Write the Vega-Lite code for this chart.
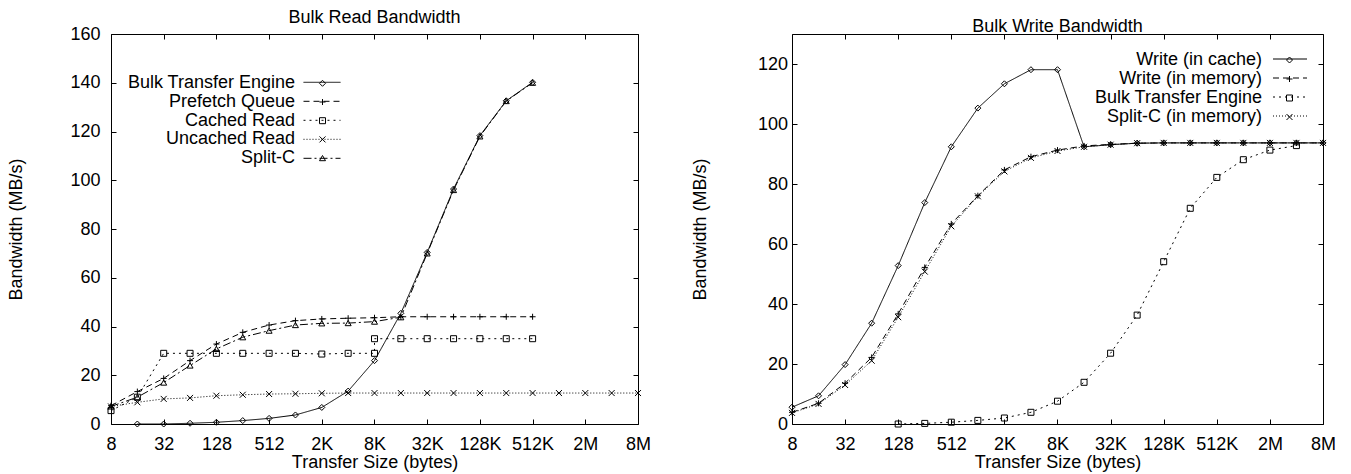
{
  "$schema": "https://vega.github.io/schema/vega-lite/v6.json",
  "padding": {"left": 7, "top": 8, "right": 5, "bottom": 5},
  "background": "white",
  "config": {
    "font": "Liberation Sans",
    "view": {"stroke": "black", "strokeWidth": 1},
    "axis": {"domain": false, "grid": false, "tickColor": "black", "tickSize": -5, "tickWidth": 1, "labelColor": "black", "labelFontSize": 18, "titleFontSize": 18, "titleFontWeight": "normal", "titleColor": "black", "labelFont": "Liberation Sans", "titleFont": "Liberation Sans", "labelOverlap": false, "labelFlush": false, "labelBound": false},
    "title": {"fontSize": 18, "fontWeight": "normal", "color": "black", "font": "Liberation Sans", "anchor": "middle", "baseline": "bottom", "offset": -2},
    "legend": {"labelFont": "Liberation Sans", "labelColor": "black", "labelFontSize": 18, "labelLimit": 500, "padding": 0}
  },
  "datasets": {
    "read": [
      {"x": 16, "y": 0, "s": "Bulk Transfer Engine"},
      {"x": 32, "y": 0, "s": "Bulk Transfer Engine"},
      {"x": 64, "y": 0.3, "s": "Bulk Transfer Engine"},
      {"x": 128, "y": 0.7, "s": "Bulk Transfer Engine"},
      {"x": 256, "y": 1.4, "s": "Bulk Transfer Engine"},
      {"x": 512, "y": 2.3, "s": "Bulk Transfer Engine"},
      {"x": 1024, "y": 3.7, "s": "Bulk Transfer Engine"},
      {"x": 2048, "y": 6.8, "s": "Bulk Transfer Engine"},
      {"x": 4096, "y": 13.5, "s": "Bulk Transfer Engine"},
      {"x": 8192, "y": 26, "s": "Bulk Transfer Engine"},
      {"x": 16384, "y": 45.4, "s": "Bulk Transfer Engine"},
      {"x": 32768, "y": 70.4, "s": "Bulk Transfer Engine"},
      {"x": 65536, "y": 96.4, "s": "Bulk Transfer Engine"},
      {"x": 131072, "y": 118.3, "s": "Bulk Transfer Engine"},
      {"x": 262144, "y": 132.6, "s": "Bulk Transfer Engine"},
      {"x": 524288, "y": 140.2, "s": "Bulk Transfer Engine"},
      {"x": 8, "y": 7.5, "s": "Prefetch Queue"},
      {"x": 16, "y": 13.3, "s": "Prefetch Queue"},
      {"x": 32, "y": 18.7, "s": "Prefetch Queue"},
      {"x": 64, "y": 26, "s": "Prefetch Queue"},
      {"x": 128, "y": 32.8, "s": "Prefetch Queue"},
      {"x": 256, "y": 37.6, "s": "Prefetch Queue"},
      {"x": 512, "y": 40.6, "s": "Prefetch Queue"},
      {"x": 1024, "y": 42.4, "s": "Prefetch Queue"},
      {"x": 2048, "y": 43.1, "s": "Prefetch Queue"},
      {"x": 4096, "y": 43.4, "s": "Prefetch Queue"},
      {"x": 8192, "y": 43.6, "s": "Prefetch Queue"},
      {"x": 16384, "y": 44, "s": "Prefetch Queue"},
      {"x": 32768, "y": 44, "s": "Prefetch Queue"},
      {"x": 65536, "y": 44, "s": "Prefetch Queue"},
      {"x": 131072, "y": 44, "s": "Prefetch Queue"},
      {"x": 262144, "y": 44, "s": "Prefetch Queue"},
      {"x": 524288, "y": 44, "s": "Prefetch Queue"},
      {"x": 8, "y": 5.5, "s": "Cached Read"},
      {"x": 16, "y": 11, "s": "Cached Read"},
      {"x": 32, "y": 29, "s": "Cached Read"},
      {"x": 64, "y": 29, "s": "Cached Read"},
      {"x": 128, "y": 29, "s": "Cached Read"},
      {"x": 256, "y": 29, "s": "Cached Read"},
      {"x": 512, "y": 29, "s": "Cached Read"},
      {"x": 1024, "y": 29, "s": "Cached Read"},
      {"x": 2048, "y": 28.7, "s": "Cached Read"},
      {"x": 4096, "y": 29, "s": "Cached Read"},
      {"x": 8192, "y": 29, "s": "Cached Read"},
      {"x": 8192, "y": 35, "s": "Cached Read"},
      {"x": 16384, "y": 35, "s": "Cached Read"},
      {"x": 32768, "y": 35, "s": "Cached Read"},
      {"x": 65536, "y": 35, "s": "Cached Read"},
      {"x": 131072, "y": 35, "s": "Cached Read"},
      {"x": 262144, "y": 35, "s": "Cached Read"},
      {"x": 524288, "y": 35, "s": "Cached Read"},
      {"x": 8, "y": 7.2, "s": "Uncached Read"},
      {"x": 16, "y": 8.9, "s": "Uncached Read"},
      {"x": 32, "y": 10.3, "s": "Uncached Read"},
      {"x": 64, "y": 10.7, "s": "Uncached Read"},
      {"x": 128, "y": 11.6, "s": "Uncached Read"},
      {"x": 256, "y": 12, "s": "Uncached Read"},
      {"x": 512, "y": 12.3, "s": "Uncached Read"},
      {"x": 1024, "y": 12.4, "s": "Uncached Read"},
      {"x": 2048, "y": 12.6, "s": "Uncached Read"},
      {"x": 4096, "y": 12.7, "s": "Uncached Read"},
      {"x": 8192, "y": 12.7, "s": "Uncached Read"},
      {"x": 16384, "y": 12.7, "s": "Uncached Read"},
      {"x": 32768, "y": 12.7, "s": "Uncached Read"},
      {"x": 65536, "y": 12.7, "s": "Uncached Read"},
      {"x": 131072, "y": 12.7, "s": "Uncached Read"},
      {"x": 262144, "y": 12.7, "s": "Uncached Read"},
      {"x": 524288, "y": 12.7, "s": "Uncached Read"},
      {"x": 1048576, "y": 12.7, "s": "Uncached Read"},
      {"x": 2097152, "y": 12.7, "s": "Uncached Read"},
      {"x": 4194304, "y": 12.7, "s": "Uncached Read"},
      {"x": 8388608, "y": 12.7, "s": "Uncached Read"},
      {"x": 8, "y": 7.2, "s": "Split-C"},
      {"x": 16, "y": 11, "s": "Split-C"},
      {"x": 32, "y": 17, "s": "Split-C"},
      {"x": 64, "y": 24, "s": "Split-C"},
      {"x": 128, "y": 30.8, "s": "Split-C"},
      {"x": 256, "y": 35.6, "s": "Split-C"},
      {"x": 512, "y": 38.3, "s": "Split-C"},
      {"x": 1024, "y": 40.6, "s": "Split-C"},
      {"x": 2048, "y": 41.3, "s": "Split-C"},
      {"x": 4096, "y": 41.4, "s": "Split-C"},
      {"x": 8192, "y": 42, "s": "Split-C"},
      {"x": 16384, "y": 43.8, "s": "Split-C"},
      {"x": 32768, "y": 70, "s": "Split-C"},
      {"x": 65536, "y": 96, "s": "Split-C"},
      {"x": 131072, "y": 118, "s": "Split-C"},
      {"x": 262144, "y": 132.5, "s": "Split-C"},
      {"x": 524288, "y": 140, "s": "Split-C"}
    ],
    "write": [
      {"x": 8, "y": 5.6, "s": "Write (in cache)"},
      {"x": 16, "y": 9.4, "s": "Write (in cache)"},
      {"x": 32, "y": 19.8, "s": "Write (in cache)"},
      {"x": 64, "y": 33.6, "s": "Write (in cache)"},
      {"x": 128, "y": 52.8, "s": "Write (in cache)"},
      {"x": 256, "y": 73.8, "s": "Write (in cache)"},
      {"x": 512, "y": 92.4, "s": "Write (in cache)"},
      {"x": 1024, "y": 105.3, "s": "Write (in cache)"},
      {"x": 2048, "y": 113.4, "s": "Write (in cache)"},
      {"x": 4096, "y": 118.1, "s": "Write (in cache)"},
      {"x": 8192, "y": 118.1, "s": "Write (in cache)"},
      {"x": 16384, "y": 92.4, "s": "Write (in cache)"},
      {"x": 32768, "y": 93.1, "s": "Write (in cache)"},
      {"x": 65536, "y": 93.6, "s": "Write (in cache)"},
      {"x": 131072, "y": 93.7, "s": "Write (in cache)"},
      {"x": 262144, "y": 93.7, "s": "Write (in cache)"},
      {"x": 524288, "y": 93.7, "s": "Write (in cache)"},
      {"x": 1048576, "y": 93.7, "s": "Write (in cache)"},
      {"x": 2097152, "y": 93.7, "s": "Write (in cache)"},
      {"x": 4194304, "y": 93.7, "s": "Write (in cache)"},
      {"x": 8388608, "y": 93.7, "s": "Write (in cache)"},
      {"x": 8, "y": 3.9, "s": "Write (in memory)"},
      {"x": 16, "y": 6.9, "s": "Write (in memory)"},
      {"x": 32, "y": 13.6, "s": "Write (in memory)"},
      {"x": 64, "y": 22.2, "s": "Write (in memory)"},
      {"x": 128, "y": 36.7, "s": "Write (in memory)"},
      {"x": 256, "y": 52.2, "s": "Write (in memory)"},
      {"x": 512, "y": 66.7, "s": "Write (in memory)"},
      {"x": 1024, "y": 76.1, "s": "Write (in memory)"},
      {"x": 2048, "y": 84.7, "s": "Write (in memory)"},
      {"x": 4096, "y": 89.1, "s": "Write (in memory)"},
      {"x": 8192, "y": 91.3, "s": "Write (in memory)"},
      {"x": 16384, "y": 92.7, "s": "Write (in memory)"},
      {"x": 32768, "y": 93.2, "s": "Write (in memory)"},
      {"x": 65536, "y": 93.6, "s": "Write (in memory)"},
      {"x": 131072, "y": 93.7, "s": "Write (in memory)"},
      {"x": 262144, "y": 93.7, "s": "Write (in memory)"},
      {"x": 524288, "y": 93.7, "s": "Write (in memory)"},
      {"x": 1048576, "y": 93.7, "s": "Write (in memory)"},
      {"x": 2097152, "y": 93.7, "s": "Write (in memory)"},
      {"x": 4194304, "y": 93.7, "s": "Write (in memory)"},
      {"x": 8388608, "y": 93.7, "s": "Write (in memory)"},
      {"x": 128, "y": 0, "s": "Bulk Transfer Engine"},
      {"x": 256, "y": 0.2, "s": "Bulk Transfer Engine"},
      {"x": 512, "y": 0.6, "s": "Bulk Transfer Engine"},
      {"x": 1024, "y": 1.2, "s": "Bulk Transfer Engine"},
      {"x": 2048, "y": 2, "s": "Bulk Transfer Engine"},
      {"x": 4096, "y": 3.9, "s": "Bulk Transfer Engine"},
      {"x": 8192, "y": 7.6, "s": "Bulk Transfer Engine"},
      {"x": 16384, "y": 13.9, "s": "Bulk Transfer Engine"},
      {"x": 32768, "y": 23.6, "s": "Bulk Transfer Engine"},
      {"x": 65536, "y": 36.3, "s": "Bulk Transfer Engine"},
      {"x": 131072, "y": 54.1, "s": "Bulk Transfer Engine"},
      {"x": 262144, "y": 71.9, "s": "Bulk Transfer Engine"},
      {"x": 524288, "y": 82.2, "s": "Bulk Transfer Engine"},
      {"x": 1048576, "y": 88.1, "s": "Bulk Transfer Engine"},
      {"x": 2097152, "y": 91.3, "s": "Bulk Transfer Engine"},
      {"x": 4194304, "y": 92.8, "s": "Bulk Transfer Engine"},
      {"x": 8, "y": 3.7, "s": "Split-C (in memory)"},
      {"x": 16, "y": 6.7, "s": "Split-C (in memory)"},
      {"x": 32, "y": 13, "s": "Split-C (in memory)"},
      {"x": 64, "y": 21.1, "s": "Split-C (in memory)"},
      {"x": 128, "y": 35.6, "s": "Split-C (in memory)"},
      {"x": 256, "y": 50.8, "s": "Split-C (in memory)"},
      {"x": 512, "y": 65.9, "s": "Split-C (in memory)"},
      {"x": 1024, "y": 75.9, "s": "Split-C (in memory)"},
      {"x": 2048, "y": 84.2, "s": "Split-C (in memory)"},
      {"x": 4096, "y": 88.7, "s": "Split-C (in memory)"},
      {"x": 8192, "y": 91, "s": "Split-C (in memory)"},
      {"x": 16384, "y": 92.4, "s": "Split-C (in memory)"},
      {"x": 32768, "y": 93.1, "s": "Split-C (in memory)"},
      {"x": 65536, "y": 93.6, "s": "Split-C (in memory)"},
      {"x": 131072, "y": 93.7, "s": "Split-C (in memory)"},
      {"x": 262144, "y": 93.7, "s": "Split-C (in memory)"},
      {"x": 524288, "y": 93.7, "s": "Split-C (in memory)"},
      {"x": 1048576, "y": 93.7, "s": "Split-C (in memory)"},
      {"x": 2097152, "y": 93.7, "s": "Split-C (in memory)"},
      {"x": 4194304, "y": 93.7, "s": "Split-C (in memory)"},
      {"x": 8388608, "y": 93.7, "s": "Split-C (in memory)"}
    ]
  },
  "spacing": 154,
  "bounds": "flush",
  "resolve": {"scale": {"strokeDash": "independent", "shape": "independent", "x": "independent", "y": "independent"}, "legend": {"strokeDash": "independent", "shape": "independent"}},
  "hconcat": [
    {
      "data": {"name": "read"},
      "title": {"text": "Bulk Read Bandwidth"},
      "width": 527,
      "height": 390,
      "layer": [
        {
          "mark": {"type": "line", "color": "black", "strokeWidth": 1},
          "encoding": {
            "x": {"field": "x", "type": "quantitative", "scale": {"type": "log", "base": 2, "domain": [8, 8388608], "nice": false},
              "axis": {"orient": "bottom", "values": [8, 32, 128, 512, 2048, 8192, 32768, 131072, 524288, 2097152, 8388608], "labelExpr": "datum.value >= 1048576 ? (datum.value / 1048576) + 'M' : (datum.value >= 1024 ? (datum.value / 1024) + 'K' : datum.value + '')", "labelPadding": 16, "title": "Transfer Size (bytes)", "titlePadding": 0}},
            "y": {"field": "y", "type": "quantitative", "scale": {"domain": [0, 160], "nice": false},
              "axis": {"orient": "left", "values": [0, 20, 40, 60, 80, 100, 120, 140, 160], "labelPadding": 16, "title": "Bandwidth (MB/s)", "titlePadding": 44}},
            "strokeDash": {"field": "s", "type": "nominal",
              "scale": {"domain": ["Bulk Transfer Engine", "Prefetch Queue", "Cached Read", "Uncached Read", "Split-C"], "range": [[1, 0], [6, 4], [2, 4], [1, 2], [8, 3, 2, 3]]},
              "legend": {"orient": "none", "legendX": 192, "legendY": 38.95, "title": null, "symbolType": "stroke", "symbolSize": 1369, "symbolStrokeWidth": 1, "symbolStrokeColor": "black", "labelExpr": "''", "clipHeight": 18.7, "rowPadding": 0}},
            "order": {"value": null}
          }
        },
        {
          "mark": {"type": "point", "filled": false, "color": "black", "strokeWidth": 1, "size": 36, "opacity": 1},
          "encoding": {
            "x": {"field": "x", "type": "quantitative", "scale": {"type": "log", "base": 2, "domain": [8, 8388608], "nice": false},
              "axis": {"orient": "top", "values": [8, 32, 128, 512, 2048, 8192, 32768, 131072, 524288, 2097152, 8388608], "labels": false, "title": null}},
            "y": {"field": "y", "type": "quantitative", "scale": {"domain": [0, 160], "nice": false},
              "axis": {"orient": "right", "values": [0, 20, 40, 60, 80, 100, 120, 140, 160], "labels": false, "title": null}},
            "shape": {"field": "s", "type": "nominal",
              "scale": {"domain": ["Bulk Transfer Engine", "Prefetch Queue", "Cached Read", "Uncached Read", "Split-C", " "], "range": ["diamond", "M-1,0L1,0M0,-1L0,1", "square", "M-1,-1L1,1M-1,1L1,-1", "triangle-up", "M0,0"]},
              "legend": {"orient": "none", "legendX": 202.5, "legendY": 40.3, "title": null, "values": ["Bulk Transfer Engine", "Prefetch Queue", "Cached Read", "Uncached Read", "Split-C"], "symbolSize": 36, "symbolStrokeWidth": 1, "symbolStrokeColor": "black", "symbolFillColor": "white", "labelAlign": "right", "labelOffset": -36.5, "rowPadding": 0.7}}
          }
        }
      ]
    },
    {
      "data": {"name": "write"},
      "title": {"text": "Bulk Write Bandwidth"},
      "width": 531,
      "height": 390,
      "layer": [
        {
          "mark": {"type": "line", "color": "black", "strokeWidth": 1},
          "encoding": {
            "x": {"field": "x", "type": "quantitative", "scale": {"type": "log", "base": 2, "domain": [8, 8388608], "nice": false},
              "axis": {"orient": "bottom", "values": [8, 32, 128, 512, 2048, 8192, 32768, 131072, 524288, 2097152, 8388608], "labelExpr": "datum.value >= 1048576 ? (datum.value / 1048576) + 'M' : (datum.value >= 1024 ? (datum.value / 1024) + 'K' : datum.value + '')", "labelPadding": 16, "title": "Transfer Size (bytes)", "titlePadding": 0}},
            "y": {"field": "y", "type": "quantitative", "scale": {"domain": [0, 130], "nice": false},
              "axis": {"orient": "left", "values": [0, 20, 40, 60, 80, 100, 120], "labelPadding": 9.5, "title": "Bandwidth (MB/s)", "titlePadding": 48}},
            "strokeDash": {"field": "s", "type": "nominal",
              "scale": {"domain": ["Write (in cache)", "Write (in memory)", "Bulk Transfer Engine", "Split-C (in memory)"], "range": [[1, 0], [6, 4], [2, 4], [1, 2]]},
              "legend": {"orient": "none", "legendX": 480.5, "legendY": 15.5, "title": null, "symbolType": "stroke", "symbolSize": 1156, "symbolStrokeWidth": 1, "symbolStrokeColor": "black", "labelExpr": "''", "clipHeight": 19, "rowPadding": 0}},
            "order": {"value": null}
          }
        },
        {
          "mark": {"type": "point", "filled": false, "color": "black", "strokeWidth": 1, "size": 36, "opacity": 1},
          "encoding": {
            "x": {"field": "x", "type": "quantitative", "scale": {"type": "log", "base": 2, "domain": [8, 8388608], "nice": false},
              "axis": {"orient": "top", "values": [8, 32, 128, 512, 2048, 8192, 32768, 131072, 524288, 2097152, 8388608], "labels": false, "title": null}},
            "y": {"field": "y", "type": "quantitative", "scale": {"domain": [0, 130], "nice": false},
              "axis": {"orient": "right", "values": [0, 20, 40, 60, 80, 100, 120], "labels": false, "title": null}},
            "shape": {"field": "s", "type": "nominal",
              "scale": {"domain": ["Write (in cache)", "Write (in memory)", "Bulk Transfer Engine", "Split-C (in memory)", " "], "range": ["diamond", "M-1,0L1,0M0,-1L0,1", "square", "M-1,-1L1,1M-1,1L1,-1", "M0,0"]},
              "legend": {"orient": "none", "legendX": 488.5, "legendY": 17, "title": null, "values": ["Write (in cache)", "Write (in memory)", "Bulk Transfer Engine", "Split-C (in memory)"], "symbolSize": 36, "symbolStrokeWidth": 1, "symbolStrokeColor": "black", "symbolFillColor": "white", "labelAlign": "right", "labelOffset": -36.5, "rowPadding": 1}}
          }
        }
      ]
    }
  ]
}
